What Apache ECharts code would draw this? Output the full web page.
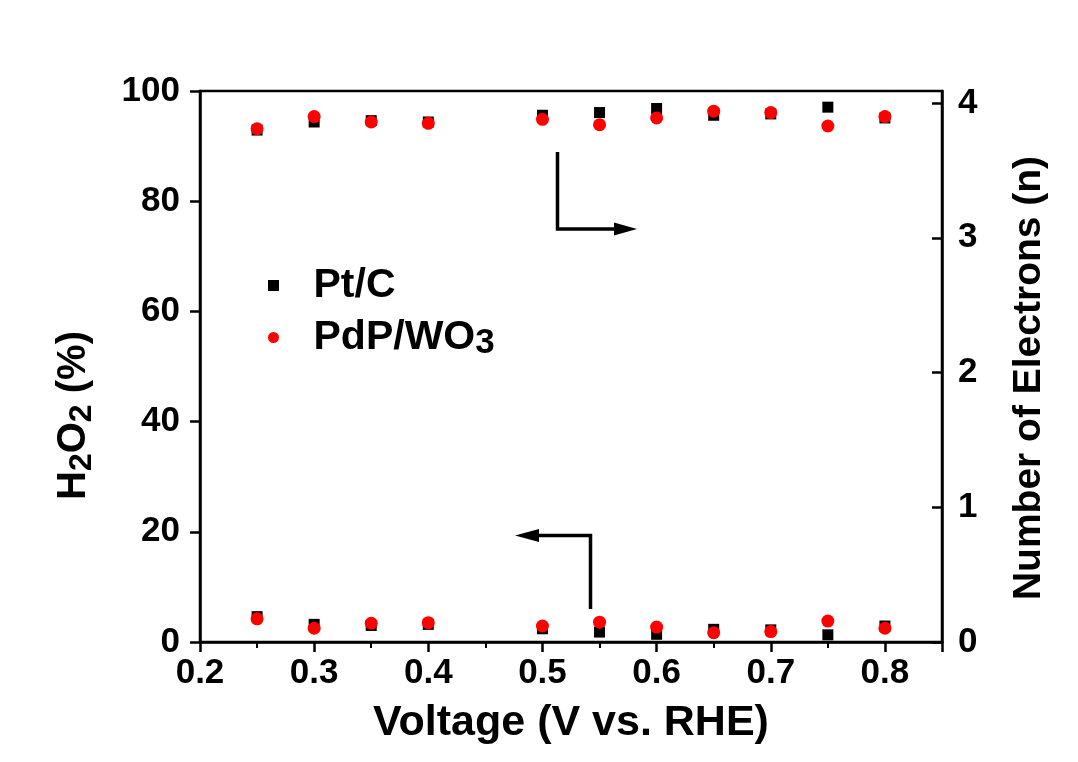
<!DOCTYPE html>
<html>
<head>
<meta charset="utf-8">
<script src="https://cdn.jsdelivr.net/npm/echarts@6/dist/echarts.min.js"></script>
<style>html,body{margin:0;padding:0;background:#fff}#c{width:1078px;height:762px}</style>
</head>
<body>
<div id="c"></div>
<script>
const voltage = [0.25, 0.3, 0.35, 0.4, 0.5, 0.55, 0.6, 0.65, 0.7, 0.75, 0.8];
const ptcN      = [3.80, 3.86, 3.87, 3.86, 3.91, 3.93, 3.96, 3.91, 3.92, 3.97, 3.89];
const pdpN      = [3.81, 3.90, 3.86, 3.85, 3.88, 3.84, 3.89, 3.94, 3.93, 3.83, 3.90];
const ptcH2O2   = [4.6, 3.2, 3.0, 3.2, 2.4, 1.8, 1.4, 2.3, 2.2, 1.3, 2.9];
const pdpH2O2   = [4.2, 2.5, 3.4, 3.5, 2.9, 3.6, 2.7, 1.7, 1.9, 3.8, 2.5];
const xTicks = [0.2, 0.3, 0.4, 0.5, 0.6, 0.7, 0.8];
const leftTicks = [0, 20, 40, 60, 80, 100];
const rightTicks = [0, 1, 2, 3, 4];

const FONT = '"Liberation Sans", Arial, sans-serif';
const pair = (xs, ys) => xs.map((x, i) => [x, ys[i]]);
const chart = echarts.init(document.getElementById('c'));
const axisLine = {show: true, lineStyle: {color: '#000', width: 2.5}};
const lab = {color: '#000', fontFamily: FONT, fontWeight: 'bold', fontSize: 35};

chart.setOption({
  animation: false,
  backgroundColor: '#fff',
  grid: {left: 200, right: 136, top: 91, bottom: 120, show: true, borderColor: '#000', borderWidth: 2.5, backgroundColor: 'transparent'},
  legend: {
    orient: 'vertical', left: 263, top: 260, itemGap: 11,
    itemWidth: 70, itemHeight: 11,
    data: [
      {name: 'Pt/C', icon: 'path://M0,0L10,0L10,10L0,10Z'},
      {name: 'PdP/WO3', icon: 'path://M5,0A5,5,0,1,1,4.99,0Z'}
    ],
    formatter: n => n === 'PdP/WO3' ? '{b|PdP/WO}{s|3}' : '{b|Pt/C}',
    textStyle: {
      rich: {
        b: {fontFamily: FONT, fontWeight: 'bold', fontSize: 41, color: '#000', lineHeight: 46, verticalAlign: 'middle'},
        s: {fontFamily: FONT, fontWeight: 'bold', fontSize: 35, color: '#000', lineHeight: 28, verticalAlign: 'bottom'}
      }
    }
  },
  xAxis: {
    type: 'value', min: 0.2, max: 0.85, interval: 0.1,
    name: 'Voltage (V vs. RHE)', nameLocation: 'middle', nameGap: 60,
    nameTextStyle: {color: '#000', fontFamily: FONT, fontWeight: 'bold', fontSize: 43},
    axisLine, splitLine: {show: false},
    axisTick: {length: 10, lineStyle: {width: 2.5, color: '#000'}},
    minorTick: {show: true, splitNumber: 2, length: 6, lineStyle: {width: 2, color: '#000'}},
    axisLabel: Object.assign({margin: 14, showMaxLabel: false, formatter: v => xTicks.includes(Math.round(v * 10) / 10) ? v.toFixed(1) : ''}, lab)
  },
  yAxis: [
    {
      type: 'value', min: 0, max: 100, interval: 20, position: 'left',
      name: '{n|H}{s|2}{n|O}{s|2}{n| (%)}', nameLocation: 'middle', nameGap: 102, nameRotate: 90,
      nameTextStyle: {padding: [0, 98, 0, 0], rich: {
        n: {fontFamily: FONT, fontWeight: 'bold', fontSize: 40, color: '#000', lineHeight: 48, verticalAlign: 'middle'},
        s: {fontFamily: FONT, fontWeight: 'bold', fontSize: 32, color: '#000', lineHeight: 28, verticalAlign: 'bottom'}
      }},
      axisLine, splitLine: {show: false},
      axisTick: {length: 10, lineStyle: {width: 2.5, color: '#000'}},
      axisLabel: Object.assign({margin: 20, formatter: v => leftTicks.includes(v) ? String(v) : ''}, lab)
    },
    {
      type: 'value', min: 0, max: 4.09, interval: 1, position: 'right',
      name: 'Number of Electrons (n)', nameLocation: 'middle', nameGap: 68, nameRotate: 90,
      nameTextStyle: {color: '#000', fontFamily: FONT, fontWeight: 'bold', fontSize: 39, padding: [0, 23, 0, 0]},
      axisLine, splitLine: {show: false},
      axisTick: {inside: true, length: 10, lineStyle: {width: 2.5, color: '#000'}},
      axisLabel: Object.assign({margin: 16, showMaxLabel: false, formatter: v => rightTicks.includes(v) ? String(v) : ''}, lab)
    }
  ],
  series: [
    {name: 'Pt/C', type: 'scatter', yAxisIndex: 1, symbol: 'rect', symbolSize: 11, itemStyle: {color: '#000', opacity: 1}, data: pair(voltage, ptcN)},
    {name: 'Pt/C', type: 'scatter', yAxisIndex: 0, symbol: 'rect', symbolSize: 11, itemStyle: {color: '#000', opacity: 1}, data: pair(voltage, ptcH2O2)},
    {name: 'PdP/WO3', type: 'scatter', yAxisIndex: 1, symbol: 'circle', symbolSize: 13, itemStyle: {color: '#ff0000', opacity: 1}, data: pair(voltage, pdpN)},
    {name: 'PdP/WO3', type: 'scatter', yAxisIndex: 0, symbol: 'circle', symbolSize: 13, itemStyle: {color: '#ff0000', opacity: 1}, data: pair(voltage, pdpH2O2)}
  ],
  graphic: [
    {type: 'polyline', shape: {points: [[557.5, 152], [557.5, 229], [618, 229]]}, style: {stroke: '#000', lineWidth: 3.5, fill: null}},
    {type: 'polygon', shape: {points: [[614, 222.5], [637, 229], [614, 235.5]]}, style: {fill: '#000'}},
    {type: 'polyline', shape: {points: [[590.5, 609], [590.5, 535.5], [535, 535.5]]}, style: {stroke: '#000', lineWidth: 3.5, fill: null}},
    {type: 'polygon', shape: {points: [[539, 529], [515, 535.5], [539, 542]]}, style: {fill: '#000'}}
  ]
});
</script>
</body>
</html>
